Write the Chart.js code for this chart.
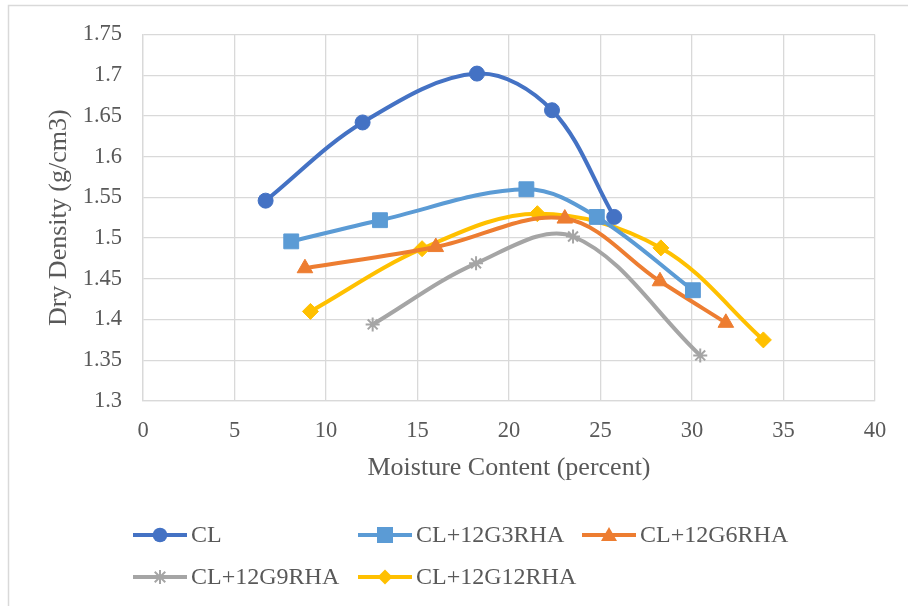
<!DOCTYPE html>
<html>
<head>
<meta charset="utf-8">
<title>Dry Density vs Moisture Content</title>
<script src="https://cdn.jsdelivr.net/npm/chart.js@4/dist/chart.umd.min.js"></script>
<style>
  html, body { margin: 0; padding: 0; background: #ffffff; }
  #wrap { width: 908px; height: 606px; position: relative; }
  canvas { display: block; }
</style>
</head>
<body>
<div id="wrap"><canvas id="chart" width="908" height="606"></canvas></div>
<script>
// Compaction curves: moisture content (%) against dry density (g/cm3)
const seriesNames = ['CL', 'CL+12G3RHA', 'CL+12G6RHA', 'CL+12G9RHA', 'CL+12G12RHA'];

const clMoisture   = [6.7, 12.0, 18.25, 22.35, 25.75];
const clDensity    = [1.546, 1.642, 1.702, 1.657, 1.526];

const g3Moisture   = [8.1, 12.95, 20.95, 24.8, 30.05];
const g3Density    = [1.496, 1.522, 1.560, 1.526, 1.436];

const g6Moisture   = [8.85, 16.0, 23.05, 28.25, 31.85];
const g6Density    = [1.463, 1.489, 1.524, 1.447, 1.396];

const g9Moisture   = [12.55, 18.2, 23.5, 30.45];
const g9Density    = [1.394, 1.469, 1.502, 1.356];

const g12Moisture  = [9.15, 15.25, 21.55, 28.3, 33.9];
const g12Density   = [1.410, 1.487, 1.530, 1.488, 1.375];

// Axis tick values
const xTickValues = [0, 5, 10, 15, 20, 25, 30, 35, 40];
const yTickValues = [1.3, 1.35, 1.4, 1.45, 1.5, 1.55, 1.6, 1.65, 1.7, 1.75];

const FONT = "'Liberation Serif', 'Times New Roman', serif";
const TEXT = '#595959';
const GRID = '#d9d9d9';

function toPoints(xs, ys) {
  return xs.map((x, i) => ({ x: x, y: ys[i] }));
}

const styles = [
  { color: '#4472C4', marker: 'circle',   radius: 7.5, bw: 1 },
  { color: '#5B9BD5', marker: 'rect',     radius: 10.5, bw: 1 },
  { color: '#ED7D31', marker: 'triangle', radius: 9, bw: 1 },
  { color: '#A5A5A5', marker: 'star',     radius: 7, bw: 2 },
  { color: '#FFC000', marker: 'rectRot',  radius: 8, bw: 1 }
];

const seriesData = [
  toPoints(clMoisture, clDensity),
  toPoints(g3Moisture, g3Density),
  toPoints(g6Moisture, g6Density),
  toPoints(g9Moisture, g9Density),
  toPoints(g12Moisture, g12Density)
];

const datasets = seriesNames.map((name, i) => ({
  label: name,
  data: seriesData[i],
  borderColor: styles[i].color,
  backgroundColor: styles[i].color,
  borderWidth: 4,
  pointStyle: styles[i].marker,
  pointRadius: styles[i].radius,
  pointHoverRadius: styles[i].radius,
  pointBorderWidth: styles[i].bw,
  pointBorderColor: styles[i].color,
  pointBackgroundColor: styles[i].color,
  tension: 0.35,
  cubicInterpolationMode: 'default',
  fill: false
}));

// Legend marker painter
function paintMarker(ctx, style, x, y) {
  ctx.save();
  ctx.fillStyle = style.color;
  ctx.strokeStyle = style.color;
  ctx.beginPath();
  switch (style.marker) {
    case 'circle':
      ctx.arc(x, y, 7.3, 0, Math.PI * 2);
      ctx.fill();
      break;
    case 'rect':
      ctx.rect(x - 8, y - 8, 16, 16);
      ctx.fill();
      break;
    case 'triangle':
      ctx.moveTo(x, y - 8);
      ctx.lineTo(x + 8, y + 6);
      ctx.lineTo(x - 8, y + 6);
      ctx.closePath();
      ctx.fill();
      break;
    case 'rectRot':
      ctx.moveTo(x, y - 7.5);
      ctx.lineTo(x + 7.5, y);
      ctx.lineTo(x, y + 7.5);
      ctx.lineTo(x - 7.5, y);
      ctx.closePath();
      ctx.fill();
      break;
    case 'star':
      ctx.lineWidth = 2;
      const r = 7;
      ctx.moveTo(x, y - r); ctx.lineTo(x, y + r);
      ctx.moveTo(x - r * 0.75, y - r * 0.75); ctx.lineTo(x + r * 0.75, y + r * 0.75);
      ctx.moveTo(x + r * 0.75, y - r * 0.75); ctx.lineTo(x - r * 0.75, y + r * 0.75);
      ctx.stroke();
      break;
  }
  ctx.restore();
}

const frameAndLegend = {
  id: 'frameAndLegend',
  beforeDraw(chart) {
    const ctx = chart.ctx;
    ctx.save();
    ctx.fillStyle = '#ffffff';
    ctx.fillRect(0, 0, chart.width, chart.height);
    ctx.strokeStyle = GRID;
    ctx.lineWidth = 1.5;
    ctx.strokeRect(8.5, 5.5, 1000, 1000);
    ctx.restore();
  },
  afterDraw(chart) {
    const ctx = chart.ctx;
    const cols = [133, 358, 582];
    const rows = [535, 577];
    ctx.save();
    ctx.font = "24px " + FONT;
    ctx.textBaseline = 'middle';
    ctx.textAlign = 'left';
    chart.data.datasets.forEach((ds, i) => {
      const x0 = cols[i % 3];
      const y = rows[Math.floor(i / 3)];
      ctx.strokeStyle = ds.borderColor;
      ctx.lineWidth = 4;
      ctx.lineCap = 'butt';
      ctx.beginPath();
      ctx.moveTo(x0, y);
      ctx.lineTo(x0 + 54, y);
      ctx.stroke();
      paintMarker(ctx, styles[i], x0 + 27, y);
      ctx.fillStyle = TEXT;
      ctx.fillText(ds.label, x0 + 58, y + 1);
    });
    ctx.restore();
  }
};

new Chart(document.getElementById('chart'), {
  type: 'line',
  data: { datasets: datasets },
  plugins: [frameAndLegend],
  options: {
    responsive: false,
    animation: false,
    devicePixelRatio: 1,
    layout: { padding: { left: 0, top: 34, right: 33, bottom: 115 } },
    plugins: {
      legend: { display: false },
      tooltip: { enabled: false }
    },
    scales: {
      x: {
        type: 'linear',
        min: xTickValues[0],
        max: xTickValues[xTickValues.length - 1],
        afterBuildTicks(scale) { scale.ticks = xTickValues.map(v => ({ value: v })); },
        afterFit(scale) { scale.height = 90; },
        grid: { color: GRID, lineWidth: 1.3, drawTicks: false },
        border: { color: GRID, width: 1.3 },
        ticks: {
          autoSkip: false,
          maxRotation: 0,
          padding: 17,
          color: TEXT,
          font: { family: FONT, size: 22.5 },
          callback: v => String(v)
        },
        title: {
          display: true,
          text: 'Moisture Content (percent)',
          color: TEXT,
          font: { family: FONT, size: 26 },
          padding: { top: 0, bottom: 7 }
        }
      },
      y: {
        type: 'linear',
        min: yTickValues[0],
        max: yTickValues[yTickValues.length - 1],
        afterBuildTicks(scale) { scale.ticks = yTickValues.map(v => ({ value: v })); },
        afterFit(scale) { scale.width = 143; },
        grid: { color: GRID, lineWidth: 1.3, drawTicks: false },
        border: { color: GRID, width: 1.3 },
        ticks: {
          autoSkip: false,
          padding: 21,
          color: TEXT,
          font: { family: FONT, size: 22.5 },
          callback: v => String(Number(v.toFixed(2)))
        },
        title: {
          display: true,
          text: 'Dry Density (g/cm3)',
          color: TEXT,
          font: { family: FONT, size: 26 },
          padding: { top: 44, bottom: 0 }
        }
      }
    }
  }
});
</script>
</body>
</html>
